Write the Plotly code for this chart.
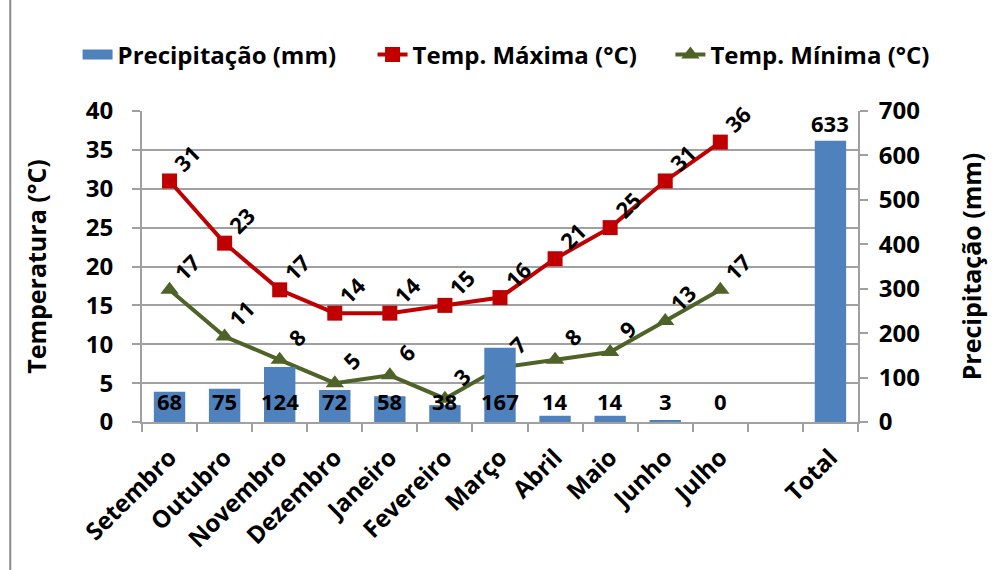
import plotly.graph_objects as go

# Monthly climate data (Setembro–Julho) plus an annual total column
months = ["Setembro", "Outubro", "Novembro", "Dezembro", "Janeiro", "Fevereiro",
          "Março", "Abril", "Maio", "Junho", "Julho", " ", "Total"]
precip_mm = [68, 75, 124, 72, 58, 38, 167, 14, 14, 3, 0, None, 633]
temp_max = [31, 23, 17, 14, 14, 15, 16, 21, 25, 31, 36, None, None]
temp_min = [17, 11, 8, 5, 6, 3, 7, 8, 9, 13, 17, None, None]

temp_ticks = [0, 5, 10, 15, 20, 25, 30, 35, 40]
precip_ticks = [0, 100, 200, 300, 400, 500, 600, 700]

BLUE = "#4F81BD"
RED = "#C00000"
GREEN = "#4F6228"
GRID = "#A0A0A0"
FONT = "Open Sans"


def bold(size):
    return dict(family=FONT, size=size, color="black", weight="bold")


fig = go.Figure()

fig.add_trace(go.Bar(
    x=months, y=precip_mm, name="Precipitação (mm)", yaxis="y2",
    marker=dict(color=BLUE, line=dict(width=0)), width=0.57,
    showlegend=False, legendgroup="precip",
))
# Legend entry for the bars, drawn as a wide blue swatch
fig.add_trace(go.Scatter(
    x=[None], y=[None], name="Precipitação (mm)", mode="lines",
    line=dict(color=BLUE, width=22), legend="legend", legendgroup="precip",
))
fig.add_trace(go.Scatter(
    x=months, y=temp_max, name="Temp. Máxima (°C)", mode="lines+markers",
    line=dict(color=RED, width=4), marker=dict(symbol="square", size=15, color=RED),
    legend="legend2",
))
fig.add_trace(go.Scatter(
    x=months, y=temp_min, name="Temp. Mínima (°C)", mode="lines+markers",
    line=dict(color=GREEN, width=4),
    marker=dict(symbol="triangle-up", size=16, color=GREEN),
    legend="legend3",
))

annotations = []

# Rotated value labels above each temperature marker
for series in (temp_max, temp_min):
    for m, v in zip(months, series):
        if v is None:
            continue
        annotations.append(dict(
            x=m, y=v, xref="x", yref="y", text=str(v), showarrow=False,
            textangle=-45, xshift=17, yshift=23, font=bold(22),
        ))

# Precipitation labels: months along the base, total above its bar
for m, v in zip(months, precip_mm):
    if v is None:
        continue
    if m == "Total":
        annotations.append(dict(
            x=m, y=v, xref="x", yref="y2", text=str(v), showarrow=False,
            yanchor="bottom", yshift=1, font=bold(22),
        ))
    else:
        annotations.append(dict(
            x=m, y=0, xref="x", yref="y2", text=str(v), showarrow=False,
            yanchor="middle", yshift=21, font=bold(22),
        ))

legend_common = dict(
    orientation="h", y=1.18, yanchor="middle", xanchor="left",
    font=bold(24), bgcolor="rgba(0,0,0,0)", itemwidth=30,
)

fig.update_layout(
    width=993, height=570,
    margin=dict(l=142, r=135, t=111, b=148, autoexpand=False),
    paper_bgcolor="white", plot_bgcolor="white",
    font=bold(22),
    bargap=0.43,
    showlegend=True,
    legend=dict(x=-0.09, **legend_common),
    legend2=dict(x=0.322, **legend_common),
    legend3=dict(x=0.738, **legend_common),
    xaxis=dict(
        type="category", categoryorder="array", categoryarray=months,
        tickangle=-45, tickfont=bold(24), ticklabelstandoff=10, automargin=False,
        showline=True, linecolor=GRID, linewidth=2,
        ticks="outside", tickson="boundaries", ticklen=8, tickcolor=GRID, tickwidth=2,
        showgrid=False, range=[-0.5, len(months) - 0.5],
    ),
    yaxis=dict(
        range=[0, 40], tickvals=temp_ticks, ticktext=[str(t) for t in temp_ticks],
        showgrid=True, gridcolor=GRID, gridwidth=2, automargin=False,
        showline=True, linecolor=GRID, linewidth=2,
        ticks="outside", ticklen=8, tickcolor=GRID, tickwidth=2,
        ticklabelstandoff=14, tickfont=bold(24),
        title=dict(text="Temperatura (°C)", standoff=32, font=bold(25)),
        zeroline=False,
    ),
    yaxis2=dict(
        range=[0, 700], tickvals=precip_ticks, ticktext=[str(t) for t in precip_ticks],
        overlaying="y", side="right", showgrid=False, automargin=False,
        showline=True, linecolor=GRID, linewidth=2,
        ticks="outside", ticklen=8, tickcolor=GRID, tickwidth=2,
        ticklabelstandoff=6, tickfont=bold(24),
        title=dict(text="Precipitação (mm)", standoff=45, font=bold(25)),
        zeroline=False,
    ),
    annotations=annotations,
    shapes=[dict(type="line", xref="paper", yref="paper", x0=-0.184, x1=-0.184,
                 y0=-0.48, y1=1.36, line=dict(color="#8C8C8C", width=2))],
)

fig.write_html("out.html")
